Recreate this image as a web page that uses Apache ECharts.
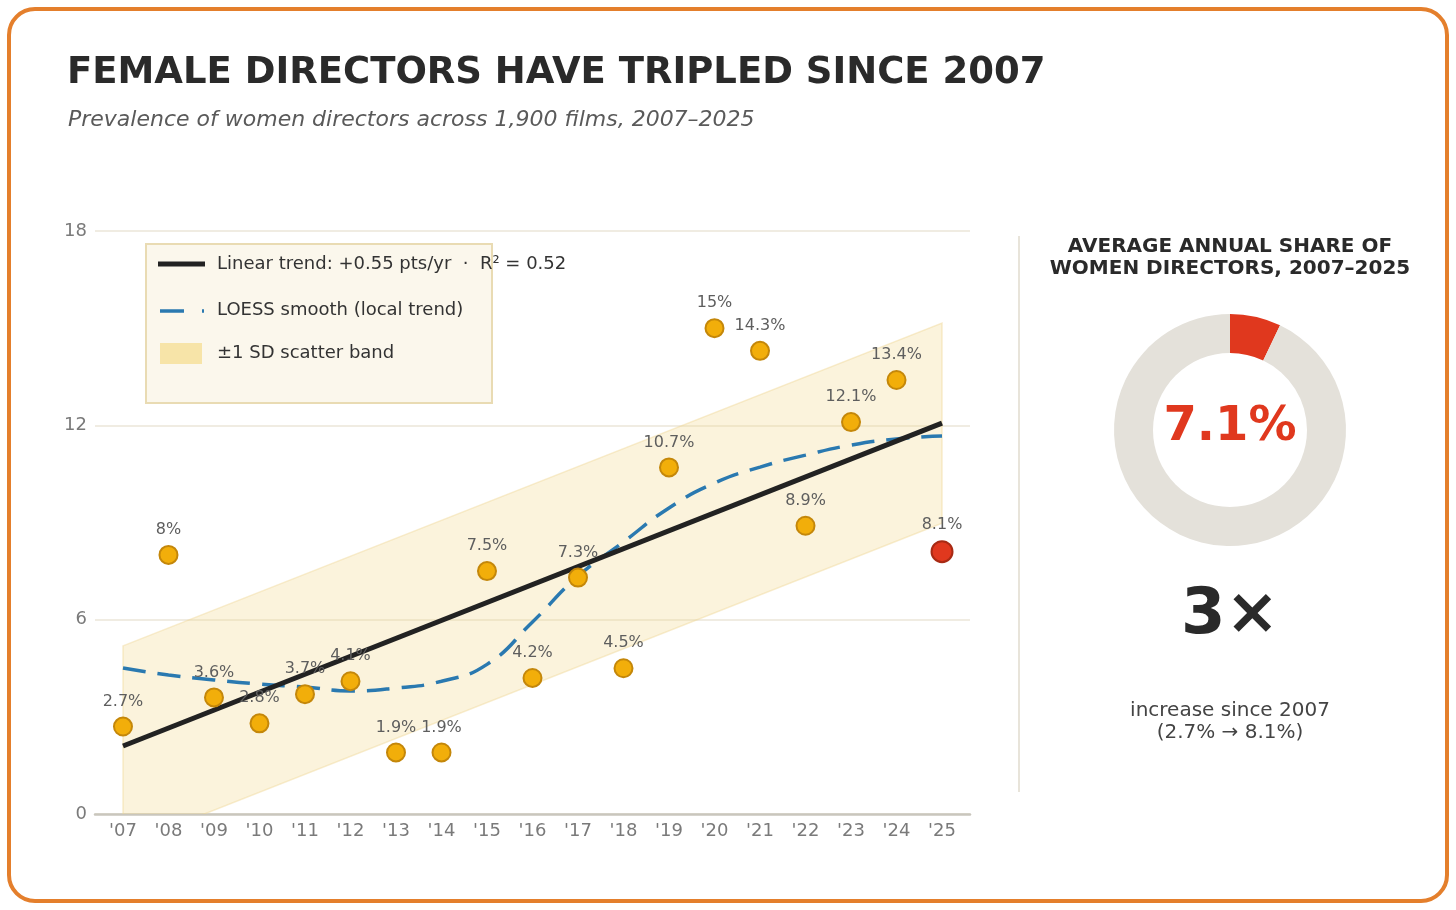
<!DOCTYPE html>
<html>
<head>
<meta charset="utf-8">
<style>
  html, body { margin: 0; padding: 0; background: #ffffff; }
  #main { width: 1456px; height: 910px; }
</style>
<script src="https://cdn.jsdelivr.net/npm/echarts@6/dist/echarts.min.js"></script>
</head>
<body>
<div id="main"></div>
<script>
// ---- data ----
var years = [2007, 2008, 2009, 2010, 2011, 2012, 2013, 2014, 2015, 2016, 2017, 2018, 2019, 2020, 2021, 2022, 2023, 2024, 2025];
var sharePct = [2.7, 8, 3.6, 2.8, 3.7, 4.1, 1.9, 1.9, 7.5, 4.2, 7.3, 4.5, 10.7, 15, 14.3, 8.9, 12.1, 13.4, 8.1];
var loessPct = [4.51, 4.29, 4.14, 4.01, 3.92, 3.8, 3.89, 4.1, 4.62, 5.93, 7.34, 8.4, 9.45, 10.22, 10.71, 11.08, 11.39, 11.58, 11.67];
var trendYears = [2007, 2025];
var trendPct = [2.1, 12.07];
var bandLow = [-0.99, 8.98];
var bandHigh = [5.19, 15.16];
var yTicks = [0, 6, 12, 18];
var avgShare = 7.1;

var FONT = 'DejaVu Sans';
var gold = '#F2AE0A', goldEdge = '#C4870A';
var red = '#E0381E', redEdge = '#A82A14';
var blue = '#2A79B0';
var ink = '#2a2a2a', muted = '#7a7a7a';

var scatterData = years.map(function (y, i) {
  var last = i === years.length - 1;
  return {
    value: [y, sharePct[i]],
    symbolSize: last ? 21 : 18,
    itemStyle: { color: last ? red : gold, borderColor: last ? redEdge : goldEdge, borderWidth: 2, opacity: 1 }
  };
});

// band polygon: [year, low, high]
var bandData = trendYears.map(function (y, i) { return [y, bandLow[i], bandHigh[i]]; });

var chart = echarts.init(document.getElementById('main'), null, { renderer: 'canvas' });
chart.setOption({
  animation: false,
  backgroundColor: '#ffffff',
  grid: { left: 95, right: 486, top: 231, bottom: 96 },
  xAxis: {
    type: 'value',
    min: 2006.385,
    max: 2025.615,
    axisLine: { show: true, onZero: false, lineStyle: { color: '#c9c6bd', width: 2.5 } },
    axisTick: { show: false },
    splitLine: { show: false },
    axisLabel: {
      customValues: years,
      color: muted, fontSize: 18, fontFamily: FONT, margin: 8,
      formatter: function (v) { return "'" + String(v).slice(2); }
    }
  },
  yAxis: {
    type: 'value',
    min: 0, max: 18, interval: 6,
    axisLine: { show: false },
    axisTick: { show: false },
    splitLine: { lineStyle: { color: '#ebe6d8', width: 1.5 } },
    axisLabel: {
      customValues: yTicks,
      color: muted, fontSize: 18, fontFamily: FONT, margin: 8
    }
  },
  series: [
    {
      name: '±1 SD scatter band', type: 'custom', silent: true, clip: true, z: 1,
      data: bandData,
      renderItem: function (params, api) {
        if (params.dataIndex !== 0) return null;
        var pts = [];
        bandData.forEach(function (d) { pts.push(api.coord([d[0], d[2]])); });
        bandData.slice().reverse().forEach(function (d) { pts.push(api.coord([d[0], d[1]])); });
        return {
          type: 'polygon',
          shape: { points: pts },
          style: { fill: 'rgba(242, 215, 138, 0.3)', stroke: 'rgba(240, 215, 150, 0.45)', lineWidth: 1.5 }
        };
      }
    },
    {
      name: 'LOESS smooth (local trend)', type: 'line', smooth: true,
      data: years.map(function (y, i) { return [y, loessPct[i]]; }),
      symbol: 'none',
      lineStyle: { color: blue, width: 3.5, type: [23, 12] },
      z: 3
    },
    {
      name: 'Linear trend', type: 'line',
      data: trendYears.map(function (y, i) { return [y, trendPct[i]]; }),
      symbol: 'none',
      lineStyle: { color: '#222222', width: 5 },
      z: 4
    },
    {
      name: 'Share', type: 'scatter',
      data: scatterData,
      label: {
        show: true, position: 'top', distance: 7,
        color: '#5e5e5e', fontSize: 16, fontFamily: FONT,
        formatter: function (p) { return p.value[1] + '%'; }
      },
      z: 5
    },
    {
      name: 'avg', type: 'pie',
      center: [1230, 430], radius: [77, 116],
      startAngle: 90, clockwise: true,
      silent: true,
      label: { show: false }, labelLine: { show: false },
      data: [
        { value: avgShare, itemStyle: { color: red } },
        { value: 100 - avgShare, itemStyle: { color: '#E4E1DA' } }
      ]
    }
  ],
  graphic: [
    { type: 'rect', shape: { x: 9, y: 9, width: 1438, height: 892, r: 26 },
      style: { fill: 'none', stroke: '#E47F2C', lineWidth: 4 }, z: 100 },
    { type: 'text', x: 67, y: 73,
      style: { text: 'FEMALE DIRECTORS HAVE TRIPLED SINCE 2007', fill: ink, font: 'bold 37px "DejaVu Sans"', textVerticalAlign: 'middle' } },
    { type: 'text', x: 68, y: 120,
      style: { text: 'Prevalence of women directors across 1,900 films, 2007–2025', fill: '#5a5a5a', font: 'italic 22px "DejaVu Sans"', textVerticalAlign: 'middle' } },
    // legend box
    { type: 'rect', shape: { x: 146, y: 244, width: 346, height: 159 },
      style: { fill: '#FBF7EC', stroke: '#E9DBB3', lineWidth: 2 }, z: 50 },
    { type: 'line', shape: { x1: 158, y1: 264, x2: 205, y2: 264 },
      style: { stroke: '#222222', lineWidth: 5 }, z: 51 },
    { type: 'text', x: 217, y: 264, z: 51,
      style: { text: 'Linear trend: +0.55 pts/yr  ·  R² = 0.52', fill: '#333333', font: '18px "DejaVu Sans"', textVerticalAlign: 'middle' } },
    { type: 'line', shape: { x1: 160, y1: 311, x2: 204, y2: 311 },
      style: { stroke: blue, lineWidth: 3.5, lineDash: [24, 18] }, z: 51 },
    { type: 'text', x: 217, y: 310, z: 51,
      style: { text: 'LOESS smooth (local trend)', fill: '#333333', font: '18px "DejaVu Sans"', textVerticalAlign: 'middle' } },
    { type: 'rect', shape: { x: 160, y: 343, width: 42, height: 21 },
      style: { fill: '#F7E4A8' }, z: 51 },
    { type: 'text', x: 217, y: 353, z: 51,
      style: { text: '±1 SD scatter band', fill: '#333333', font: '18px "DejaVu Sans"', textVerticalAlign: 'middle' } },
    // right panel
    { type: 'line', shape: { x1: 1019, y1: 236, x2: 1019, y2: 792 },
      style: { stroke: '#e8e4da', lineWidth: 2 } },
    { type: 'text', x: 1230, y: 247,
      style: { text: 'AVERAGE ANNUAL SHARE OF', fill: ink, font: 'bold 20px "DejaVu Sans"', textAlign: 'center', textVerticalAlign: 'middle' } },
    { type: 'text', x: 1230, y: 269,
      style: { text: 'WOMEN DIRECTORS, 2007–2025', fill: ink, font: 'bold 20px "DejaVu Sans"', textAlign: 'center', textVerticalAlign: 'middle' } },
    { type: 'text', x: 1230, y: 428,
      style: { text: avgShare + '%', fill: red, font: 'bold 48px "DejaVu Sans"', textAlign: 'center', textVerticalAlign: 'middle' } },
    { type: 'text', x: 1230, y: 616,
      style: { text: '3×', fill: ink, font: 'bold 64px "DejaVu Sans"', textAlign: 'center', textVerticalAlign: 'middle' } },
    { type: 'text', x: 1230, y: 711,
      style: { text: 'increase since 2007', fill: '#444444', font: '20px "DejaVu Sans"', textAlign: 'center', textVerticalAlign: 'middle' } },
    { type: 'text', x: 1230, y: 733,
      style: { text: '(2.7% → 8.1%)', fill: '#444444', font: '20px "DejaVu Sans"', textAlign: 'center', textVerticalAlign: 'middle' } }
  ]
});
window.addEventListener('resize', function () { chart.resize(); });
</script>
</body>
</html>
